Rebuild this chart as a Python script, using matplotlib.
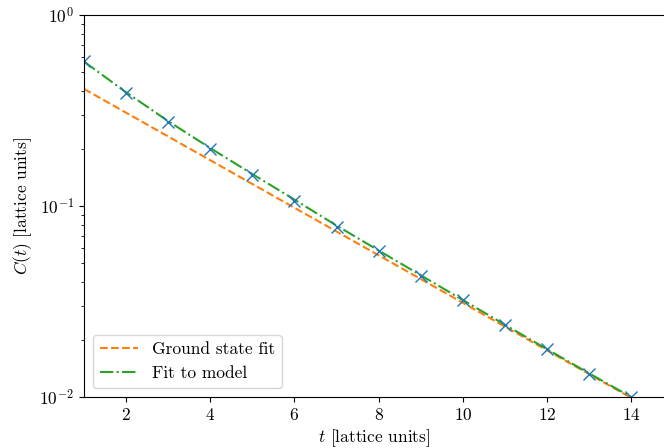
import matplotlib
matplotlib.use("Agg")
import matplotlib.pyplot as plt

plt.rcParams["font.family"] = "serif"
plt.rcParams["font.serif"] = ["cmr10"]
plt.rcParams["mathtext.fontset"] = "cm"
plt.rcParams["axes.formatter.use_mathtext"] = True
plt.rcParams["font.size"] = 12.5

# measured correlator
t_data = [1, 2, 3, 4, 5, 6, 7, 8, 9, 10, 11, 12, 13, 14]
c_data = [0.574, 0.392, 0.276, 0.200, 0.145, 0.106, 0.0778, 0.0583, 0.0432,
          0.0321, 0.0238, 0.0178, 0.01325, 0.0100]

# ground state fit (single exponential)
t_ground = [1, 14]
c_ground = [0.410, 0.0099]

# full model fit
t_model = [1, 2, 3, 4, 5, 6, 7, 8, 9, 10, 11, 12, 13, 14]
c_model = [0.570, 0.394, 0.278, 0.201, 0.147, 0.108, 0.0790, 0.0585, 0.0434,
           0.0322, 0.0239, 0.0178, 0.0133, 0.0100]

fig = plt.figure(figsize=(6.64, 4.48), dpi=100)
ax = fig.add_axes([84 / 664, 51 / 448, 580 / 664, 382 / 448])

ax.plot(t_ground, c_ground, "--", color="tab:orange", label="Ground state fit")
ax.plot(t_model, c_model, "-.", color="tab:green", label="Fit to model")
ax.plot(t_data, c_data, "x", color="tab:blue", markersize=9, linestyle="none")

ax.set_yscale("log")
ax.set_ylim(1e-2, 1e0)
ax.set_xlim(1, 14.78)
ax.set_xticks([2, 4, 6, 8, 10, 12, 14])
ax.spines["right"].set_visible(False)
ax.set_xlabel(r"$t$ [lattice units]", labelpad=3)
ax.set_ylabel(r"$C(t)$ [lattice units]")
ax.legend(loc="lower left", handlelength=2.2)

fig.savefig("out.png", dpi=100)
